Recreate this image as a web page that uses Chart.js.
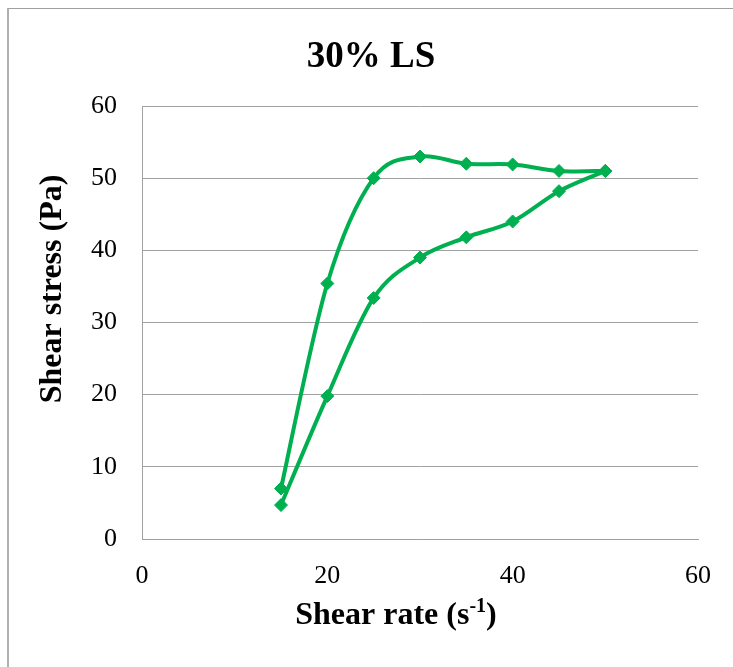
<!DOCTYPE html>
<html>
<head>
<meta charset="utf-8">
<script src="https://cdn.jsdelivr.net/npm/chart.js@4"></script>
<style>
  html, body { margin: 0; padding: 0; background: #fff; overflow: hidden; }
  #wrap { position: relative; width: 733px; height: 667px; }
  #frame {
    position: absolute; left: 7px; top: 8px; width: 900px; height: 900px;
    border-top: 1px solid #a0a0a0; border-left: 2px solid #b0b0b0;
    box-sizing: border-box;
  }
  canvas { position: absolute; left: 0; top: 0; }
</style>
</head>
<body>
<div id="wrap">
  <div id="frame"></div>
  <canvas id="c" width="733" height="667"></canvas>
</div>
<script>
// Shear rate steps (s^-1)
const shearRate = [15, 20, 25, 30, 35, 40, 45, 50];
// Shear stress (Pa) on the ramp up and on the ramp down
const stressUp = [4.7, 19.8, 33.4, 39.0, 41.8, 44.0, 48.2, 51.0];
const stressDown = [7.0, 35.4, 50.0, 53.0, 52.0, 51.9, 51.0, 51.0];
// Axis tick values
const xTickValues = [0, 20, 40, 60];
const yTickValues = [0, 10, 20, 30, 40, 50, 60];

const titleText = '30% LS';
const yTitleText = 'Shear stress (Pa)';
const xTitleMain = 'Shear rate (s';
const xTitleSup = '-1';
const xTitleEnd = ')';

const GREEN = '#00B050';
const GRID = '#a0a0a0';
const SERIF = '"Liberation Serif", "Times New Roman", serif';

function toPoints(xs, ys) {
  return xs.map((x, i) => ({ x: x, y: ys[i] }));
}

const seriesStyle = {
  showLine: true,
  borderColor: GREEN,
  backgroundColor: GREEN,
  borderWidth: 4,
  tension: 0.4,
  pointStyle: 'rectRot',
  pointRadius: 6.5,
  pointBorderWidth: 1,
  pointBorderColor: GREEN,
  pointBackgroundColor: GREEN,
  clip: false
};

// Smoothed line in the spreadsheet style: uniform Catmull-Rom
// control points (1/6 of the neighbour chord) on the scaled pixels.
const smoothPlugin = {
  id: 'catmullRom',
  beforeDatasetsDraw(chart) {
    const k = 1 / 6;
    chart.data.datasets.forEach((ds, di) => {
      const meta = chart.getDatasetMeta(di);
      const pts = meta.data;
      const n = pts.length;
      for (let i = 0; i < n; i++) {
        const p = pts[i];
        const prev = pts[Math.max(0, i - 1)];
        const next = pts[Math.min(n - 1, i + 1)];
        const dx = (next.x - prev.x) * k;
        const dy = (next.y - prev.y) * k;
        p.cp1x = p.x - dx; p.cp1y = p.y - dy;
        p.cp2x = p.x + dx; p.cp2y = p.y + dy;
      }
      if (meta.dataset) {
        meta.dataset._pointsUpdated = true;
        delete meta.dataset._path;
      }
    });
  }
};

// Chart title and axis titles, drawn as canvas text
const textPlugin = {
  id: 'chartText',
  afterDraw(chart) {
    const ctx = chart.ctx;
    ctx.save();
    ctx.fillStyle = '#000';

    ctx.font = 'bold 37px ' + SERIF;
    ctx.textAlign = 'center';
    ctx.textBaseline = 'alphabetic';
    ctx.fillText(titleText, 371, 67);

    ctx.save();
    ctx.translate(61, 289);
    ctx.rotate(-Math.PI / 2);
    ctx.font = 'bold 32px ' + SERIF;
    ctx.textAlign = 'center';
    ctx.fillText(yTitleText, 0, 0);
    ctx.restore();

    const mainFont = 'bold 32px ' + SERIF;
    const supFont = 'bold 20px ' + SERIF;
    ctx.font = mainFont;
    const w1 = ctx.measureText(xTitleMain).width;
    const w3 = ctx.measureText(xTitleEnd).width;
    ctx.font = supFont;
    const w2 = ctx.measureText(xTitleSup).width;
    const total = w1 + w2 + w3;
    let x = 396 - total / 2;
    const base = 624;
    ctx.textAlign = 'left';
    ctx.font = mainFont;
    ctx.fillText(xTitleMain, x, base);
    x += w1;
    ctx.font = supFont;
    ctx.fillText(xTitleSup, x, base - 12);
    x += w2;
    ctx.font = mainFont;
    ctx.fillText(xTitleEnd, x, base);
    ctx.restore();
  }
};

new Chart(document.getElementById('c'), {
  type: 'scatter',
  data: {
    datasets: [
      Object.assign({ label: 'Up', data: toPoints(shearRate, stressUp) }, seriesStyle),
      Object.assign({ label: 'Down', data: toPoints(shearRate, stressDown) }, seriesStyle)
    ]
  },
  options: {
    responsive: false,
    animation: false,
    devicePixelRatio: 1,
    layout: { padding: { left: 0, top: 106, right: 33, bottom: 0 } },
    plugins: {
      legend: { display: false },
      title: { display: false },
      tooltip: { enabled: false }
    },
    scales: {
      x: {
        type: 'linear',
        min: 0, max: 60,
        afterBuildTicks(scale) { scale.ticks = xTickValues.map(v => ({ value: v })); },
        afterFit(scale) { scale.height = 128; },
        grid: { display: false, drawTicks: false },
        border: { display: true, color: GRID, width: 1 },
        ticks: {
          color: '#000',
          font: { family: SERIF, size: 26 },
          padding: 22,
          maxRotation: 0
        }
      },
      y: {
        type: 'linear',
        min: 0, max: 60,
        afterBuildTicks(scale) { scale.ticks = yTickValues.map(v => ({ value: v })); },
        afterFit(scale) { scale.width = 142; },
        grid: { display: true, drawTicks: false, color: GRID, lineWidth: 1 },
        border: { display: true, color: GRID, width: 1 },
        ticks: {
          color: '#000',
          font: { family: SERIF, size: 26 },
          padding: 25
        }
      }
    }
  },
  plugins: [smoothPlugin, textPlugin]
});
</script>
</body>
</html>
